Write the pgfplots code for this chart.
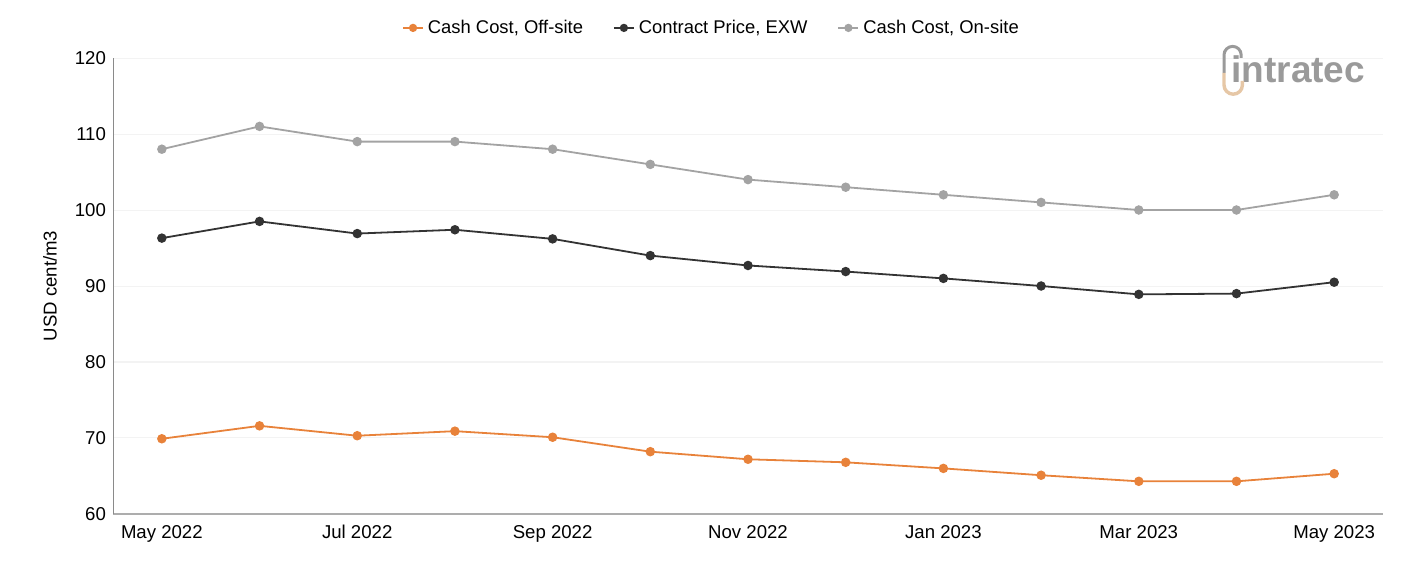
\documentclass[border=0pt]{standalone}
\usepackage{pgfplots}
\pgfplotsset{compat=1.18}
\usepackage{fontspec}
\setmainfont{Liberation Sans}
\definecolor{offsite}{HTML}{E8823A}
\definecolor{contract}{HTML}{333333}
\definecolor{onsite}{HTML}{A3A3A3}
\definecolor{gridc}{HTML}{F3F3F3}
\definecolor{axisc}{HTML}{8A8A8A}
\definecolor{logog}{HTML}{9A9A9A}
\definecolor{logoo}{HTML}{E6C7A6}

\begin{document}
\begin{tikzpicture}[x=1pt,y=1pt]
\begin{axis}[
  name=ax,
  at={(0,0)}, anchor=south west,
  scale only axis,
  width=635pt, height=228pt,
  xmin=-0.5, xmax=12.5,
  ymin=60, ymax=120,
  ytick={60,70,...,120},
  xtick={0,2,...,12},
  xticklabels={May 2022, Jul 2022, Sep 2022, Nov 2022, Jan 2023, Mar 2023, May 2023},
  axis x line*=bottom,
  axis y line*=left,
  x axis line style={color=axisc!70, line width=0.6pt, -},
  y axis line style={color=axisc, line width=0.5pt, -},
  major tick length=0pt,
  ymajorgrids,
  grid style={gridc, line width=0.5pt},
  tick label style={font=\fontsize{9.3}{11}\selectfont, text=black},
  /pgf/number format/assume math mode=true,
  xticklabel style={yshift=-2pt},
  ylabel={USD cent/m3},
  ylabel style={at={(rel axis cs:-0.0496,0.5)}, anchor=center, font=\fontsize{9.3}{11}\selectfont},
  legend columns=3,
  legend style={at={(rel axis cs:0.472,1.066)}, anchor=center, draw=none, fill=none,
    font=\fontsize{9.2}{11}\selectfont,
    /tikz/every even column/.append style={column sep=13pt}},
  legend image code/.code={
    \draw[#1, mark=none] (0pt,0pt) -- (10pt,0pt);
    \fill[#1] (5pt,0pt) circle (1.6pt);
  },
  every axis plot/.append style={line width=0.9pt, mark=*, mark size=1.9pt},
  clip=false,
]
\addplot[color=offsite, mark options={fill=offsite}] coordinates {
  (0,69.9) (1,71.6) (2,70.3) (3,70.9) (4,70.1) (5,68.2) (6,67.2)
  (7,66.8) (8,66.0) (9,65.1) (10,64.3) (11,64.3) (12,65.3)};
\addlegendentry{Cash Cost, Off-site}
\addplot[color=contract, mark options={fill=contract}] coordinates {
  (0,96.3) (1,98.5) (2,96.9) (3,97.4) (4,96.2) (5,94.0) (6,92.7)
  (7,91.9) (8,91.0) (9,90.0) (10,88.9) (11,89.0) (12,90.5)};
\addlegendentry{Contract Price, EXW}
\addplot[color=onsite, mark options={fill=onsite}] coordinates {
  (0,108) (1,111) (2,109) (3,109) (4,108) (5,106) (6,104)
  (7,103) (8,102) (9,101) (10,100) (11,100) (12,102)};
\addlegendentry{Cash Cost, On-site}
\end{axis}

% brand mark in the upper right corner
\begin{scope}[shift={(559pt,222.5pt)}]
  \node[anchor=west, inner sep=0pt, text=logog, font=\bfseries\fontsize{18.5}{20}\selectfont]
    at (0,0) {intratec};
  \draw[logog, line width=1.5pt] (-3.5pt,-2pt) -- (-3.5pt,7pt)
    arc[start angle=180, end angle=0, radius=4.3pt] -- ++(0,-1.5pt);
  \draw[logoo, line width=1.7pt] (-3.5pt,-2pt) -- (-3.5pt,-8pt)
    arc[start angle=180, end angle=360, radius=4.6pt] -- ++(0,2pt);
\end{scope}

\path[use as bounding box] (-56.5pt,-23.5pt) rectangle (644pt,257pt);
\end{tikzpicture}
\end{document}
